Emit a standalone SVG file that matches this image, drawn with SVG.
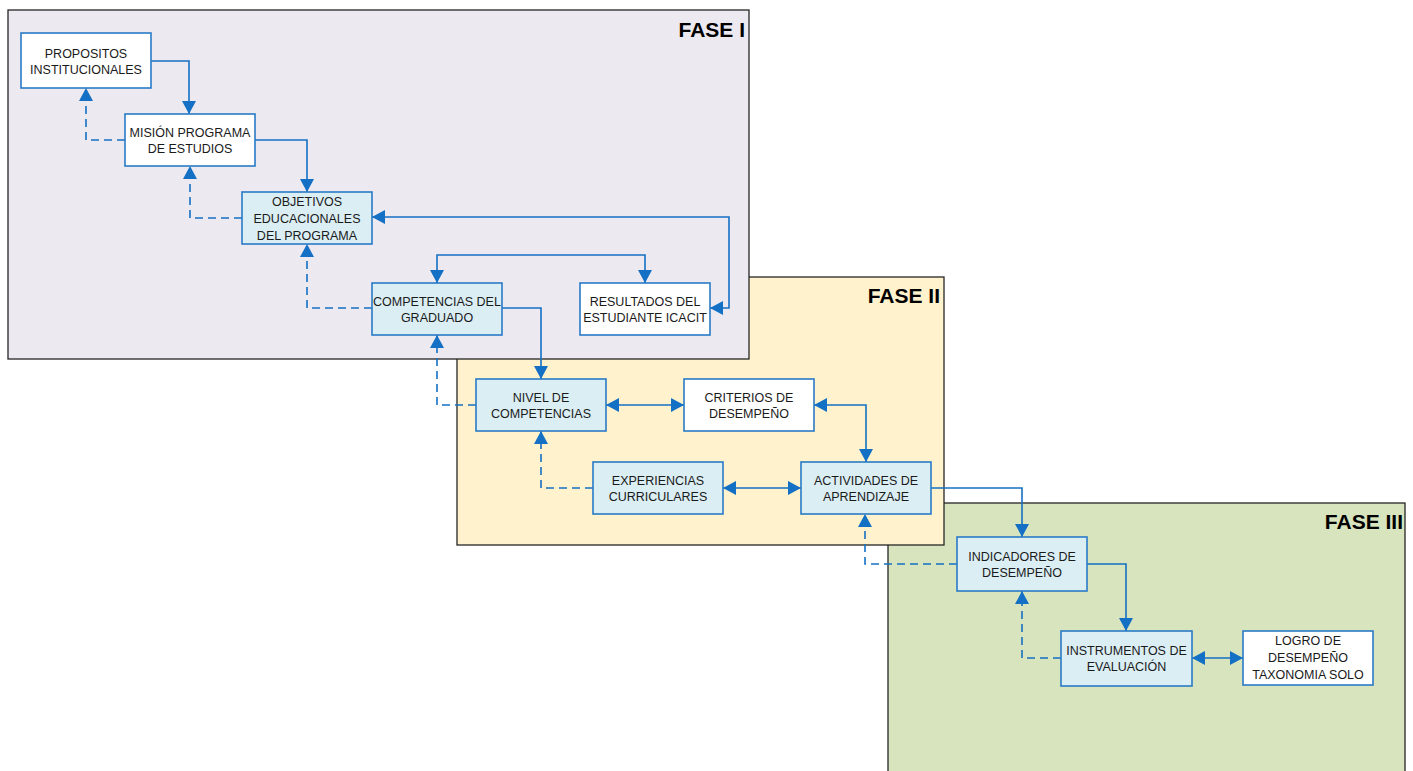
<svg xmlns="http://www.w3.org/2000/svg" width="1413" height="771" viewBox="0 0 1413 771">
<style>
.phase{stroke:#262626;stroke-width:1.3}
.node{stroke:#2A7AC6;stroke-width:1.6}
.white{fill:#FFFFFF}
.blue{fill:#DBEEF4}
.t{font-family:"Liberation Sans",Arial,sans-serif;font-size:12.5px;fill:#1a1a1a;text-anchor:middle}
.ph{font-family:"Liberation Sans",Arial,sans-serif;font-size:21px;font-weight:bold;fill:#000;text-anchor:end}
.c{fill:none;stroke:#1470C4;stroke-width:1.6}
.d{stroke-dasharray:8,5}
</style>
<defs>
<marker id="ah" viewBox="0 0 13 14" refX="13" refY="7" markerWidth="13" markerHeight="14" markerUnits="userSpaceOnUse" orient="auto-start-reverse">
<path d="M0,0 L13,7 L0,14 Z" fill="#1470C4"/>
</marker>
</defs>

<g id="phases">
<rect id="fase3" class="phase" x="888" y="503" width="517" height="280" fill="#D7E4BD"/>
<text class="ph" x="1403" y="529">FASE III</text>
<rect id="fase2" class="phase" x="457" y="277" width="487" height="268" fill="#FFF2CC"/>
<text class="ph" x="940" y="303">FASE II</text>
<rect id="fase1" class="phase" x="8" y="10" width="741" height="349" fill="#ECE9F1"/>
<text class="ph" x="745" y="37">FASE I</text>
</g>

<g id="connectors">
<path class="c" d="M151,61 H189 V114" marker-end="url(#ah)"/>
<path class="c" d="M255,140 H307 V192" marker-end="url(#ah)"/>
<path class="c d" d="M125,140 H86 V88" marker-end="url(#ah)"/>
<path class="c d" d="M242,218 H190 V166" marker-end="url(#ah)"/>
<path class="c" d="M372,217 H729 V308 H710" marker-start="url(#ah)" marker-end="url(#ah)"/>
<path class="c" d="M437,283 V255 H645 V283" marker-start="url(#ah)" marker-end="url(#ah)"/>
<path class="c d" d="M372,308 H307 V244" marker-end="url(#ah)"/>
<path class="c" d="M502,308 H541 V379" marker-end="url(#ah)"/>
<path class="c d" d="M476,405 H437 V335" marker-end="url(#ah)"/>
<path class="c" d="M606,405 H684" marker-start="url(#ah)" marker-end="url(#ah)"/>
<path class="c" d="M814,405 H866 V462" marker-start="url(#ah)" marker-end="url(#ah)"/>
<path class="c" d="M723,488 H801" marker-start="url(#ah)" marker-end="url(#ah)"/>
<path class="c d" d="M593,488 H541 V431" marker-end="url(#ah)"/>
<path class="c" d="M931,488 H1022 V537" marker-end="url(#ah)"/>
<path class="c d" d="M957,564 H865 V514" marker-end="url(#ah)"/>
<path class="c" d="M1087,564 H1126 V631" marker-end="url(#ah)"/>
<path class="c d" d="M1061,658 H1022 V591" marker-end="url(#ah)"/>
<path class="c" d="M1192,658 H1243" marker-start="url(#ah)" marker-end="url(#ah)"/>
</g>

<g id="n-propositos">
<rect class="node white" x="21" y="33" width="130" height="55"/>
<text class="t" x="86" y="57.5">PROPOSITOS</text>
<text class="t" x="86" y="74">INSTITUCIONALES</text>
</g>
<g id="n-mision">
<rect class="node white" x="125" y="114" width="130" height="52"/>
<text class="t" x="190" y="136.5">MISIÓN PROGRAMA</text>
<text class="t" x="190" y="153">DE ESTUDIOS</text>
</g>
<g id="n-objetivos">
<rect class="node blue" x="242" y="192" width="130" height="52"/>
<text class="t" x="307" y="205.5">OBJETIVOS</text>
<text class="t" x="307" y="222.5">EDUCACIONALES</text>
<text class="t" x="307" y="239.5">DEL PROGRAMA</text>
</g>
<g id="n-competencias">
<rect class="node blue" x="372" y="283" width="130" height="52"/>
<text class="t" x="437" y="305.5">COMPETENCIAS DEL</text>
<text class="t" x="437" y="322">GRADUADO</text>
</g>
<g id="n-resultados">
<rect class="node white" x="580" y="283" width="130" height="52"/>
<text class="t" x="645" y="305.5">RESULTADOS DEL</text>
<text class="t" x="645" y="322">ESTUDIANTE ICACIT</text>
</g>
<g id="n-nivel">
<rect class="node blue" x="476" y="379" width="130" height="52"/>
<text class="t" x="541" y="401.5">NIVEL DE</text>
<text class="t" x="541" y="418">COMPETENCIAS</text>
</g>
<g id="n-criterios">
<rect class="node white" x="684" y="379" width="130" height="52"/>
<text class="t" x="749" y="401.5">CRITERIOS DE</text>
<text class="t" x="749" y="418">DESEMPEÑO</text>
</g>
<g id="n-experiencias">
<rect class="node blue" x="593" y="462" width="130" height="52"/>
<text class="t" x="658" y="484.5">EXPERIENCIAS</text>
<text class="t" x="658" y="501">CURRICULARES</text>
</g>
<g id="n-actividades">
<rect class="node blue" x="801" y="462" width="130" height="52"/>
<text class="t" x="866" y="484.5">ACTIVIDADES DE</text>
<text class="t" x="866" y="501">APRENDIZAJE</text>
</g>
<g id="n-indicadores">
<rect class="node blue" x="957" y="537" width="130" height="54"/>
<text class="t" x="1022" y="560.5">INDICADORES DE</text>
<text class="t" x="1022" y="577">DESEMPEÑO</text>
</g>
<g id="n-instrumentos">
<rect class="node blue" x="1061" y="631" width="131" height="55"/>
<text class="t" x="1126.5" y="654.5">INSTRUMENTOS DE</text>
<text class="t" x="1126.5" y="671">EVALUACIÓN</text>
</g>
<g id="n-logro">
<rect class="node white" x="1243" y="631" width="130" height="54"/>
<text class="t" x="1308" y="645">LOGRO DE</text>
<text class="t" x="1308" y="662">DESEMPEÑO</text>
<text class="t" x="1308" y="679">TAXONOMIA SOLO</text>
</g>
</svg>
